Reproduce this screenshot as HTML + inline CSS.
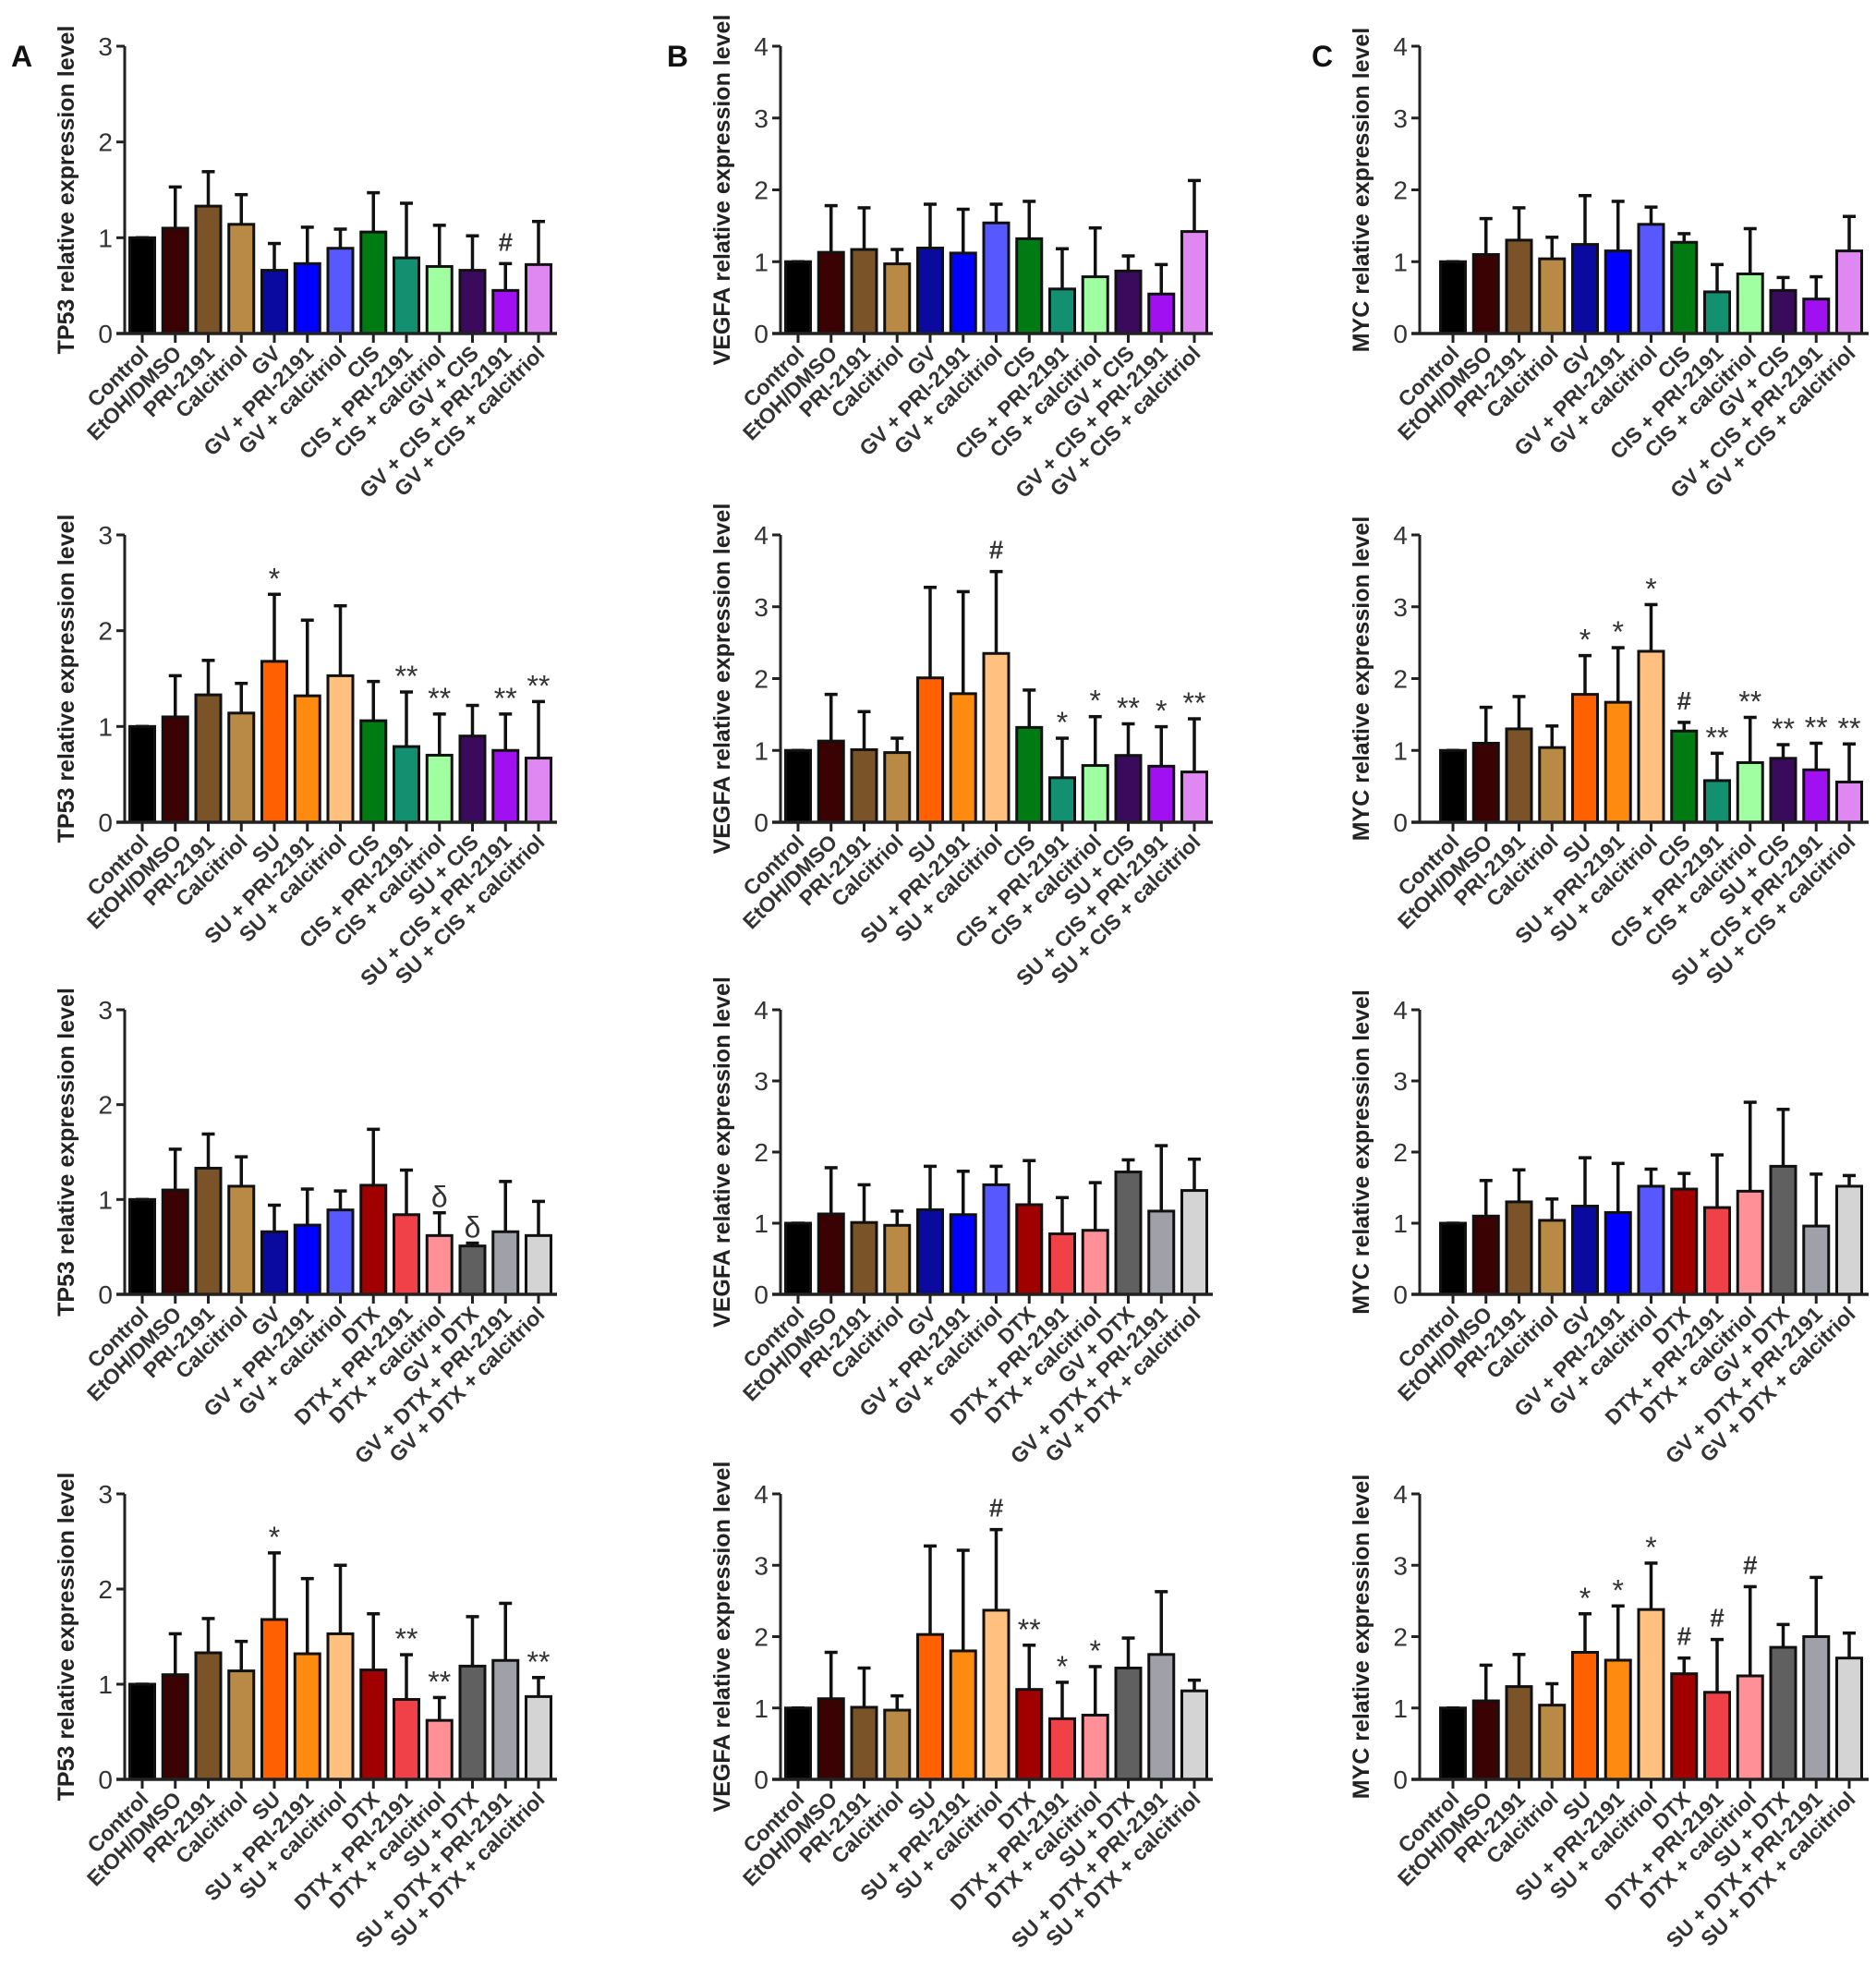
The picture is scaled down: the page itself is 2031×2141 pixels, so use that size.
<!DOCTYPE html>
<html><head><meta charset="utf-8"><style>
html,body{margin:0;padding:0;background:#fff;}
svg{display:block;font-family:"Liberation Sans",Arial,sans-serif;}
</style></head><body>
<svg id="fig" width="2031" height="2141" viewBox="0 0 2031 2141" xmlns="http://www.w3.org/2000/svg"></svg>
<script>
// ---- data ----
const labelsGVCIS = ["Control","EtOH/DMSO","PRI-2191","Calcitriol","GV","GV + PRI-2191","GV + calcitriol","CIS","CIS + PRI-2191","CIS + calcitriol","GV + CIS","GV + CIS + PRI-2191","GV + CIS + calcitriol"];
const labelsSUCIS = ["Control","EtOH/DMSO","PRI-2191","Calcitriol","SU","SU + PRI-2191","SU + calcitriol","CIS","CIS + PRI-2191","CIS + calcitriol","SU + CIS","SU + CIS + PRI-2191","SU + CIS + calcitriol"];
const labelsGVDTX = ["Control","EtOH/DMSO","PRI-2191","Calcitriol","GV","GV + PRI-2191","GV + calcitriol","DTX","DTX + PRI-2191","DTX + calcitriol","GV + DTX","GV + DTX + PRI-2191","GV + DTX + calcitriol"];
const labelsSUDTX = ["Control","EtOH/DMSO","PRI-2191","Calcitriol","SU","SU + PRI-2191","SU + calcitriol","DTX","DTX + PRI-2191","DTX + calcitriol","SU + DTX","SU + DTX + PRI-2191","SU + DTX + calcitriol"];

const colorsGVCIS = ["#000000","#3a0202","#7a5428","#b98a45","#0a0aa0","#0000ff","#5858ff","#007a12","#129070","#a0ffa0","#3a0a5c","#a010f0","#e088f2"];
const colorsSUCIS = ["#000000","#3a0202","#7a5428","#b98a45","#ff6000","#ff8a10","#ffc080","#007a12","#129070","#a0ffa0","#3a0a5c","#a010f0","#e088f2"];
const colorsGVDTX = ["#000000","#3a0202","#7a5428","#b98a45","#0a0aa0","#0000ff","#5858ff","#a00000","#f04048","#ff9098","#606060","#a0a0a8","#d4d4d4"];
const colorsSUDTX = ["#000000","#3a0202","#7a5428","#b98a45","#ff6000","#ff8a10","#ffc080","#a00000","#f04048","#ff9098","#606060","#a0a0a8","#d4d4d4"];

const tp53_1 = [1,1.1,1.33,1.14,0.66,0.73,0.89,1.06,0.79,0.7,0.66,0.45,0.72];
const tp53_1err = [1,1.53,1.69,1.45,0.94,1.11,1.09,1.47,1.36,1.13,1.02,0.73,1.17];
const tp53_1sig = ["","","","","","","","","","","","#",""];
const tp53_2 = [1,1.1,1.33,1.14,1.68,1.32,1.53,1.06,0.79,0.7,0.9,0.75,0.67];
const tp53_2err = [1,1.53,1.69,1.45,2.38,2.11,2.26,1.47,1.36,1.13,1.22,1.13,1.26];
const tp53_2sig = ["","","","","*","","","","**","**","","**","**"];
const tp53_3 = [1,1.1,1.33,1.14,0.66,0.73,0.89,1.15,0.84,0.62,0.51,0.66,0.62];
const tp53_3err = [1,1.53,1.69,1.45,0.94,1.11,1.09,1.74,1.31,0.86,0.54,1.19,0.98];
const tp53_3sig = ["","","","","","","","","","δ","δ","",""];
const tp53_4 = [1,1.1,1.33,1.14,1.68,1.32,1.53,1.15,0.84,0.62,1.19,1.25,0.87];
const tp53_4err = [1,1.53,1.69,1.45,2.38,2.11,2.25,1.74,1.31,0.86,1.71,1.85,1.07];
const tp53_4sig = ["","","","","*","","","","**","**","","","**"];

const vegfa_1 = [1,1.13,1.17,0.97,1.19,1.12,1.54,1.32,0.62,0.79,0.87,0.55,1.42];
const vegfa_1err = [1,1.78,1.75,1.17,1.8,1.73,1.8,1.84,1.18,1.47,1.08,0.96,2.13];
const vegfa_1sig = ["","","","","","","","","","","","",""];
const vegfa_2 = [1,1.13,1.01,0.97,2.01,1.79,2.35,1.32,0.62,0.79,0.93,0.78,0.7];
const vegfa_2err = [1,1.78,1.54,1.17,3.27,3.21,3.49,1.84,1.17,1.47,1.37,1.33,1.44];
const vegfa_2sig = ["","","","","","","#","","*","*","**","*","**"];
const vegfa_3 = [1,1.13,1.01,0.97,1.19,1.12,1.54,1.26,0.85,0.9,1.72,1.17,1.46];
const vegfa_3err = [1,1.78,1.54,1.17,1.8,1.73,1.8,1.88,1.36,1.57,1.89,2.09,1.9];
const vegfa_3sig = ["","","","","","","","","","","","",""];
const vegfa_4 = [1,1.13,1.01,0.97,2.03,1.8,2.37,1.26,0.85,0.9,1.56,1.75,1.24];
const vegfa_4err = [1,1.78,1.56,1.17,3.27,3.21,3.5,1.88,1.36,1.58,1.98,2.63,1.39];
const vegfa_4sig = ["","","","","","","#","**","*","*","","",""];

const myc_1 = [1,1.1,1.3,1.04,1.24,1.15,1.52,1.27,0.58,0.83,0.6,0.48,1.15];
const myc_1err = [1,1.6,1.75,1.34,1.92,1.84,1.76,1.39,0.96,1.46,0.78,0.79,1.63];
const myc_1sig = ["","","","","","","","","","","","",""];
const myc_2 = [1,1.1,1.3,1.04,1.78,1.67,2.38,1.27,0.58,0.83,0.89,0.73,0.56];
const myc_2err = [1,1.6,1.75,1.34,2.32,2.43,3.03,1.39,0.96,1.46,1.08,1.1,1.09];
const myc_2sig = ["","","","","*","*","*","#","**","**","**","**","**"];
const myc_3 = [1,1.1,1.3,1.04,1.24,1.15,1.52,1.48,1.22,1.45,1.8,0.96,1.52];
const myc_3err = [1,1.6,1.75,1.34,1.92,1.84,1.76,1.7,1.96,2.7,2.6,1.69,1.67];
const myc_3sig = ["","","","","","","","","","","","",""];
const myc_4 = [1,1.1,1.3,1.04,1.78,1.67,2.38,1.48,1.22,1.45,1.85,2.0,1.7];
const myc_4err = [1,1.6,1.75,1.34,2.32,2.43,3.03,1.7,1.96,2.7,2.17,2.83,2.05];
const myc_4sig = ["","","","","*","*","*","#","#","#","","",""];

const ticksA = ["0","1","2","3"];
const ticksBC = ["0","1","2","3","4"];

// ---- drawing ----
const NS = "http://www.w3.org/2000/svg";
const svg = document.getElementById("fig");
function mk(tag, attrs, parent){
  const e = document.createElementNS(NS, tag);
  for (const k in attrs) e.setAttribute(k, attrs[k]);
  (parent||svg).appendChild(e);
  return e;
}
const rowTop = [50, 579, 1093, 1617];
const rowZero = [361, 890, 1401, 1926];
const cols = [
  {axis:135, first:154, end:603, gene:"TP53", max:3, ticks:ticksA},
  {axis:845, first:864, end:1313, gene:"VEGFA", max:4, ticks:ticksBC},
  {axis:1537, first:1573, end:2023, gene:"MYC", max:4, ticks:ticksBC}
];
const step = 35.75, barW = 27;

function drawChart(ci, ri, vals, errs, sigs, labels, colors, name){
  const c = cols[ci], top = rowTop[ri], zero = rowZero[ri];
  const g = mk("g", {});
  
  
  const y = v => zero - (v / c.max) * (zero - top);
  const x = i => c.first + i * step;
  vals.forEach((v, i) => {
    const eb = mk("line", {x1:x(i), x2:x(i), y1:y(v), y2:y(errs[i]), stroke:"#111", "stroke-width":3.5}, g);
    
    
    const cap = mk("line", {x1:x(i)-7, x2:x(i)+7, y1:y(errs[i]), y2:y(errs[i]), stroke:"#111", "stroke-width":3.5}, g);
    
    
    const r = mk("rect", {x:x(i)-barW/2, y:y(v), width:barW, height:zero-y(v), fill:colors[i], stroke:"#111", "stroke-width":3}, g);
    
    
    if (sigs[i]) {
      const isHash = sigs[i]==="#";
      const t = mk("text", {x:x(i), y:y(errs[i]) - (isHash?14:6), "text-anchor":"middle", "font-size": isHash?28:32, fill:"#333", "font-weight": isHash?"bold":"normal"}, g);
      t.textContent = sigs[i];
      
      
    }
    const tk = mk("line", {x1:x(i), x2:x(i), y1:zero, y2:zero+10, stroke:"#222", "stroke-width":3}, g);
    
    
    const lx = x(i) + 8, ly = zero + 23;
    const lt = mk("text", {x:lx, y:ly, "text-anchor":"end", "font-size":23, "font-weight":"bold", fill:"#333", transform:`rotate(-45 ${lx} ${ly})`}, g);
    lt.textContent = labels[i];
    
    
  });
  const ya = mk("line", {x1:c.axis, x2:c.axis, y1:top, y2:zero+1, stroke:"#222", "stroke-width":3}, g);
  
  
  const xa = mk("line", {x1:c.axis-9, x2:c.end, y1:zero, y2:zero, stroke:"#222", "stroke-width":3.5}, g);
  
  
  c.ticks.forEach((lab, k) => {
    const ty = y(+lab);
    const tl = mk("line", {x1:c.axis-9, x2:c.axis, y1:ty, y2:ty, stroke:"#222", "stroke-width":3}, g);
    
    
    const tt = mk("text", {x:c.axis-13, y:ty+10, "text-anchor":"end", "font-size":28, fill:"#333"}, g);
    tt.textContent = lab;
    
    
  });
  const cx = c.axis - 55, cy = (top + zero) / 2;
  const yt = mk("text", {x:cx, y:cy, "text-anchor":"middle", "font-size":25, "font-weight":"bold", fill:"#222", transform:`rotate(-90 ${cx} ${cy})`}, g);
  yt.textContent = c.gene + " relative expression level";
  
  
}

drawChart(0,0,tp53_1,tp53_1err,tp53_1sig,labelsGVCIS,colorsGVCIS,"tp53-gv-cis-chart");
drawChart(0,1,tp53_2,tp53_2err,tp53_2sig,labelsSUCIS,colorsSUCIS,"tp53-su-cis-chart");
drawChart(0,2,tp53_3,tp53_3err,tp53_3sig,labelsGVDTX,colorsGVDTX,"tp53-gv-dtx-chart");
drawChart(0,3,tp53_4,tp53_4err,tp53_4sig,labelsSUDTX,colorsSUDTX,"tp53-su-dtx-chart");
drawChart(1,0,vegfa_1,vegfa_1err,vegfa_1sig,labelsGVCIS,colorsGVCIS,"vegfa-gv-cis-chart");
drawChart(1,1,vegfa_2,vegfa_2err,vegfa_2sig,labelsSUCIS,colorsSUCIS,"vegfa-su-cis-chart");
drawChart(1,2,vegfa_3,vegfa_3err,vegfa_3sig,labelsGVDTX,colorsGVDTX,"vegfa-gv-dtx-chart");
drawChart(1,3,vegfa_4,vegfa_4err,vegfa_4sig,labelsSUDTX,colorsSUDTX,"vegfa-su-dtx-chart");
drawChart(2,0,myc_1,myc_1err,myc_1sig,labelsGVCIS,colorsGVCIS,"myc-gv-cis-chart");
drawChart(2,1,myc_2,myc_2err,myc_2sig,labelsSUCIS,colorsSUCIS,"myc-su-cis-chart");
drawChart(2,2,myc_3,myc_3err,myc_3sig,labelsGVDTX,colorsGVDTX,"myc-gv-dtx-chart");
drawChart(2,3,myc_4,myc_4err,myc_4sig,labelsSUDTX,colorsSUDTX,"myc-su-dtx-chart");

[["A",12],["B",722],["C",1420]].forEach(([L, px]) => {
  const t = mk("text", {x:px, y:72, "font-size":32, "font-weight":"bold", fill:"#111"});
  t.textContent = L;
  
  
});
</script>
</body></html>
